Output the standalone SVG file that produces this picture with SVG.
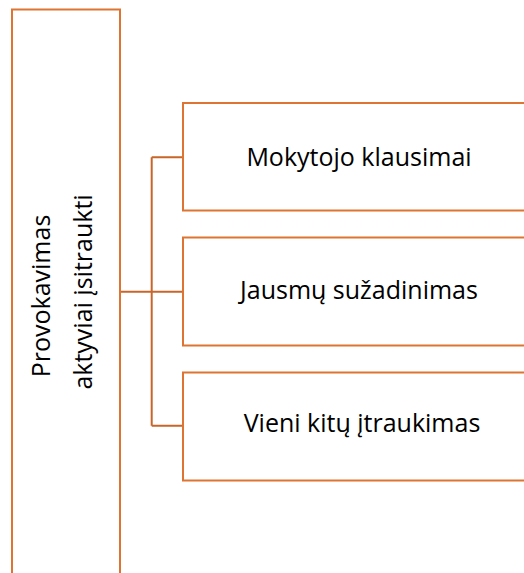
<svg xmlns="http://www.w3.org/2000/svg" width="524" height="573" viewBox="0 0 524 573">
<style>
.box{fill:#fff;stroke:#DD7431;stroke-width:2}
.con{fill:none;stroke:#C8652A;stroke-width:2}
.t{font-family:"Open Sans","Liberation Sans",sans-serif;font-size:25px;fill:#000;text-anchor:middle}
</style>
<rect width="524" height="573" fill="#fff"/>
<g id="connectors">
<path class="con" d="M120 291.7H183M151.7 157.3V425.7M151.7 157.3H183M151.7 425.7H183"/>
</g>
<g id="main">
<rect class="box" x="12" y="9.5" width="108" height="580"/>
<text class="t" transform="translate(50 296) rotate(-90)">Provokavimas</text>
<text class="t" transform="translate(92 292) rotate(-90)">aktyviai įsitraukti</text>
</g>
<g id="n1">
<rect class="box" x="183" y="103" width="345" height="107.5"/>
<text class="t" x="359" y="166">Mokytojo klausimai</text>
</g>
<g id="n2">
<rect class="box" x="183" y="237.5" width="345" height="108"/>
<text class="t" x="359" y="299">Jausmų sužadinimas</text>
</g>
<g id="n3">
<rect class="box" x="183" y="372.5" width="345" height="108"/>
<text class="t" x="362" y="432">Vieni kitų įtraukimas</text>
</g>
</svg>
